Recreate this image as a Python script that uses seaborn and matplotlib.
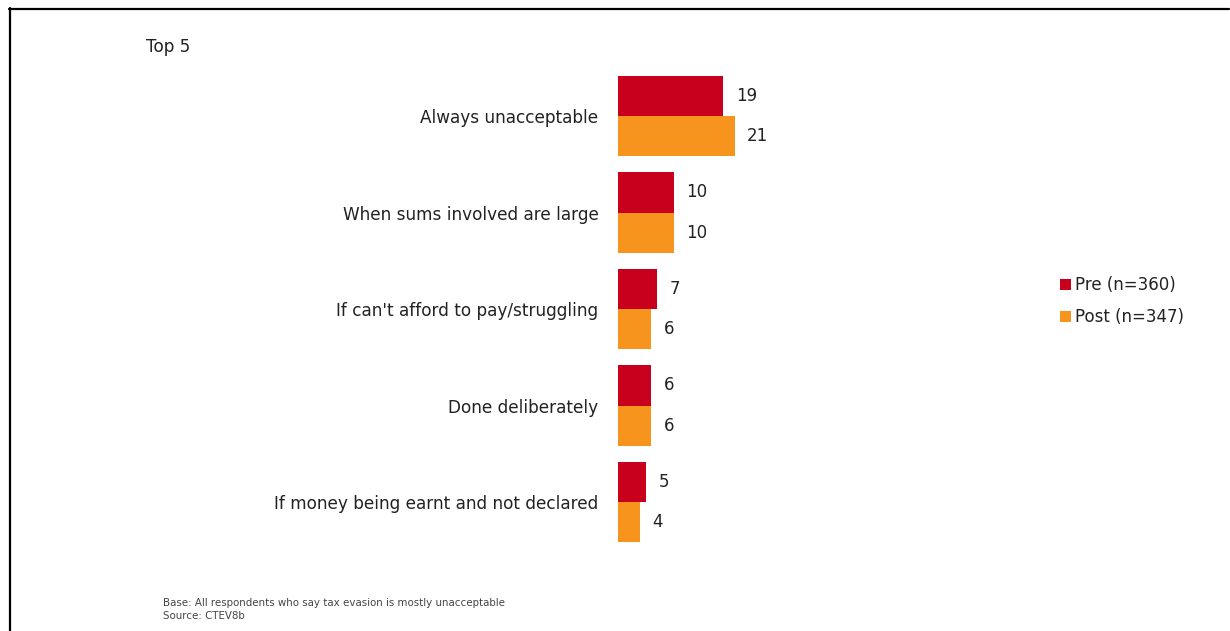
import matplotlib
matplotlib.use("Agg")
import matplotlib.pyplot as plt
from matplotlib.lines import Line2D
import pandas as pd
import seaborn as sns

categories = [
    "Always unacceptable",
    "When sums involved are large",
    "If can't afford to pay/struggling",
    "Done deliberately",
    "If money being earnt and not declared",
]
series_names = ["Pre (n=360)", "Post (n=347)"]
pre_values = [19, 10, 7, 6, 5]
post_values = [21, 10, 6, 6, 4]
colors = ["#C8001E", "#F7941D"]

df = pd.DataFrame({
    "category": categories * 2,
    "series": [series_names[0]] * len(categories) + [series_names[1]] * len(categories),
    "value": pre_values + post_values,
})

sns.set_theme(style="white")
plt.rcParams["font.family"] = ["DejaVu Sans"]

W, H = 1230, 631
fig = plt.figure(figsize=(W / 100, H / 100), dpi=100)

# axes placed in pixel terms: zero line at x=618, ~5.55 px per unit
px_per_unit = 5.55
ax_left, ax_width = 618, 420
y_top, y_bot = 58.1, 559.9
ax = fig.add_axes([ax_left / W, 1 - y_bot / H, ax_width / W, (y_bot - y_top) / H])

sns.barplot(
    data=df, y="category", x="value", hue="series", orient="h",
    palette=colors, width=0.83, gap=0, saturation=1, ax=ax,
    order=categories, hue_order=series_names, errorbar=None, linewidth=0,
)
ax.set_xlim(0, ax_width / px_per_unit)
ax.set_ylim(4.6, -0.6)

for cont in ax.containers:
    ax.bar_label(cont, fmt="%d", padding=9, fontsize=12, color="#222222")

ax.set_xlabel("")
ax.set_ylabel("")
ax.set_xticks([])
ax.tick_params(axis="y", length=0, pad=14, labelsize=12.2, labelcolor="#222222")
for s in ax.spines.values():
    s.set_visible(False)

sns.move_legend(
    ax, loc="upper left", bbox_to_anchor=(1060 / W, 1 - 276 / H),
    bbox_transform=fig.transFigure, frameon=False, title=None,
    fontsize=12, handlelength=0.65, handleheight=0.65, handletextpad=0.25,
    labelspacing=0.85, borderaxespad=0, borderpad=0,
)
for t in ax.get_legend().get_texts():
    t.set_color("#222222")

fig.text(146 / W, 1 - 47 / H, "Top 5", fontsize=12.2, va="center", ha="left", color="#222222")
fig.text(163 / W, 1 - 603 / H, "Base: All respondents who say tax evasion is mostly unacceptable",
         fontsize=7.4, va="center", ha="left", color="#444444")
fig.text(163 / W, 1 - 616 / H, "Source: CTEV8b",
         fontsize=7.4, va="center", ha="left", color="#444444")

# frame lines along the top and left
fig.add_artist(Line2D([9 / W, 1229 / W], [1 - 9 / H, 1 - 9 / H], transform=fig.transFigure,
                      color="black", lw=1.6))
fig.add_artist(Line2D([9.5 / W, 9.5 / W], [1 - 8 / H, 0], transform=fig.transFigure,
                      color="black", lw=1.6))

fig.savefig("out.png", dpi=100, facecolor="white")
